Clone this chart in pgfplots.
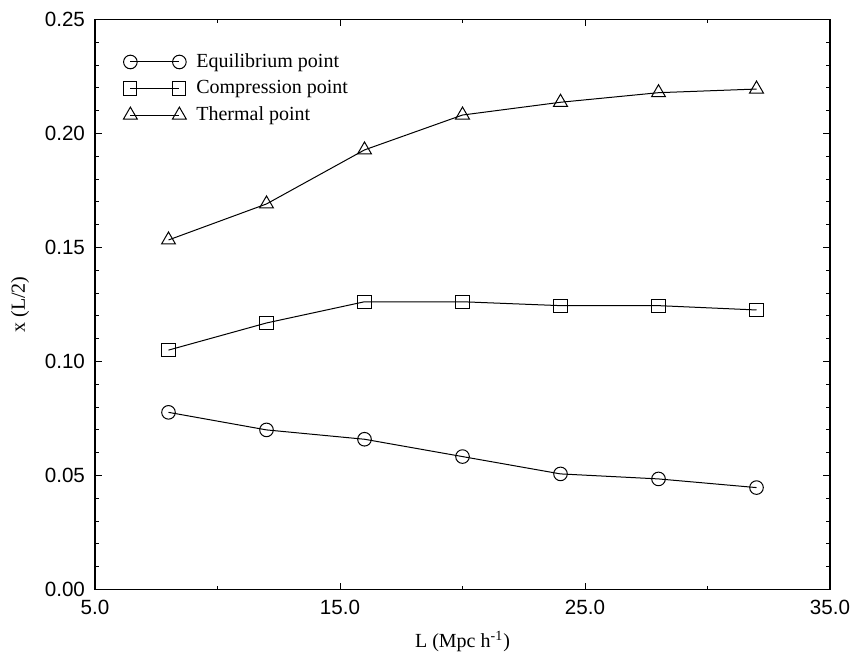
\documentclass[border=0pt]{standalone}
\usepackage{fontspec}
\setmainfont{Liberation Serif}
\setsansfont{Liberation Sans}
\usepackage{pgfplots}
\pgfplotsset{compat=1.18}
\begin{document}
\begin{tikzpicture}
\begin{axis}[name=ax, scale only axis, width=367.5pt, height=285pt,
  xmin=5, xmax=35, ymin=0, ymax=0.25,
  xtick={5,15,25,35}, minor x tick num=1,
  ytick={0,0.05,0.10,0.15,0.20,0.25}, minor y tick num=4,
  tick align=inside, major tick length=3.5pt, minor tick length=2pt,
  axis line style={line width=0.7pt},
  every tick/.style={black, line width=0.5pt},
  xticklabel style={font=\sffamily\fontsize{10.3}{12}\selectfont, yshift=-2pt, /pgf/number format/.cd, fixed, fixed zerofill, precision=1, assume math mode=true},
  yticklabel style={font=\sffamily\fontsize{10.3}{12}\selectfont, xshift=-1.5pt, /pgf/number format/.cd, fixed, fixed zerofill, precision=2, assume math mode=true},
  xlabel={L (Mpc h\textsuperscript{-1})},
  ylabel={x (L/2)},
  xlabel style={yshift=-1pt},
  ylabel style={yshift=1pt},
  label style={font=\fontsize{10}{12}\selectfont},
  legend style={at={(0.03,0.955)}, anchor=north west, draw=none, fill=none,
    font=\fontsize{10}{12}\selectfont, row sep=1pt, column sep=3pt},
  legend cell align=left,
  legend image code/.code={\draw[mark repeat=1,mark phase=1,#1] plot coordinates {(0pt,0pt) (24.5pt,0pt)};},
  every axis plot/.append style={black, line width=0.5pt, mark options={line width=0.5pt}},
]
\addplot[mark=o, mark size=3.4pt] coordinates {
(8,0.0777) (12,0.0700) (16,0.0659) (20,0.0583) (24,0.0507) (28,0.0485) (32,0.0447)};
\addlegendentry{Equilibrium point}
\addplot[mark=square, mark size=3.3pt] coordinates {
(8,0.1050) (12,0.1169) (16,0.1262) (20,0.1262) (24,0.1245) (28,0.1245) (32,0.1226)};
\addlegendentry{Compression point}
\addplot[mark=triangle, mark size=4pt] coordinates {
(8,0.1533) (12,0.1691) (16,0.1928) (20,0.2081) (24,0.2137) (28,0.2179) (32,0.2195)};
\addlegendentry{Thermal point}
\end{axis}
\pgfresetboundingbox
\path[use as bounding box] ([shift={(-47.5pt,-31.75pt)}]ax.south west) rectangle ([shift={(14.5pt,9.75pt)}]ax.north east);
\end{tikzpicture}
\end{document}
